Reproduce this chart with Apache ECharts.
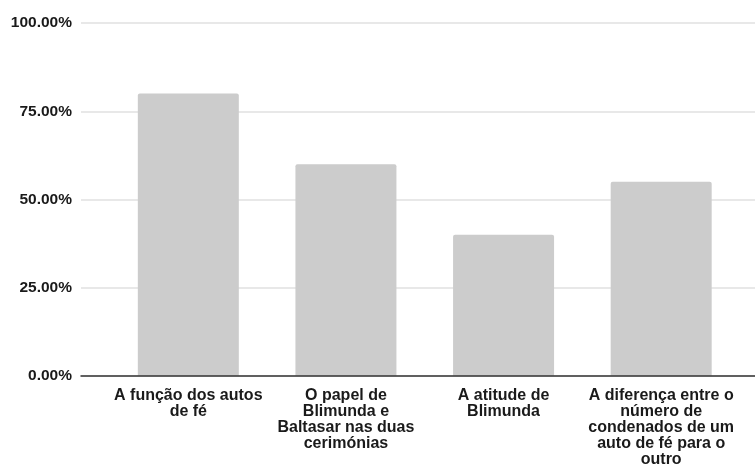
<!DOCTYPE html>
<html>
<head>
<meta charset="utf-8">
<script src="https://cdn.jsdelivr.net/npm/echarts@6/dist/echarts.min.js"></script>
<style>html,body{margin:0;padding:0;background:#fff;}#c{width:755px;height:464px;}</style>
</head>
<body>
<div id="c"></div>
<script>
var categories = [
  'A função dos autos\nde fé',
  'O papel de\nBlimunda e\nBaltasar nas duas\ncerimónias',
  'A atitude de\nBlimunda',
  'A diferença entre o\nnúmero de\ncondenados de um\nauto de fé para o\noutro'
];
var values = [0.80, 0.60, 0.40, 0.55];
var yTicks = [0, 0.25, 0.5, 0.75, 1];

var chart = echarts.init(document.getElementById('c'), null, {renderer: 'canvas'});
var font = 'Liberation Sans, Arial, sans-serif';
chart.setOption({
  animation: false,
  backgroundColor: '#ffffff',
  grid: [
    {left: 81, right: 0, top: 23, bottom: 88, containLabel: false, outerBoundsMode: 'none'},
    {left: 109.5, right: 15, top: 23, bottom: 88, containLabel: false, outerBoundsMode: 'none'}
  ],
  xAxis: [
    {
      gridIndex: 0, type: 'category', data: categories, z: 5,
      axisLine: {show: true, lineStyle: {color: '#333333', width: 1.5}},
      axisTick: {show: false}, axisLabel: {show: false}, splitLine: {show: false}
    },
    {
      gridIndex: 1, type: 'category', data: categories,
      axisLine: {show: false}, axisTick: {show: false},
      axisLabel: {
        interval: 0, margin: 12, color: '#1a1a1a', fontFamily: font,
        fontWeight: 'bold', fontSize: 16, lineHeight: 15.8, align: 'center'
      }
    }
  ],
  yAxis: [
    {
      gridIndex: 0, type: 'value', min: yTicks[0], max: yTicks[yTicks.length - 1], interval: 0.25,
      axisLine: {show: false}, axisTick: {show: false},
      axisLabel: {
        margin: 9, color: '#1a1a1a', fontFamily: font, fontWeight: 'bold', fontSize: 15.5,
        formatter: function (v) { return (v * 100).toFixed(2) + '%'; }
      },
      splitLine: {show: true, lineStyle: {color: '#e0e0e0', width: 1.5}}
    },
    {
      gridIndex: 1, type: 'value', min: 0, max: 1, interval: 0.25, show: false,
      splitLine: {show: false}
    }
  ],
  series: [{
    type: 'bar', xAxisIndex: 1, yAxisIndex: 1, data: values,
    barWidth: 101, z: 2,
    itemStyle: {color: '#cccccc', borderRadius: [2, 2, 0, 0]}
  }]
});
</script>
</body>
</html>
